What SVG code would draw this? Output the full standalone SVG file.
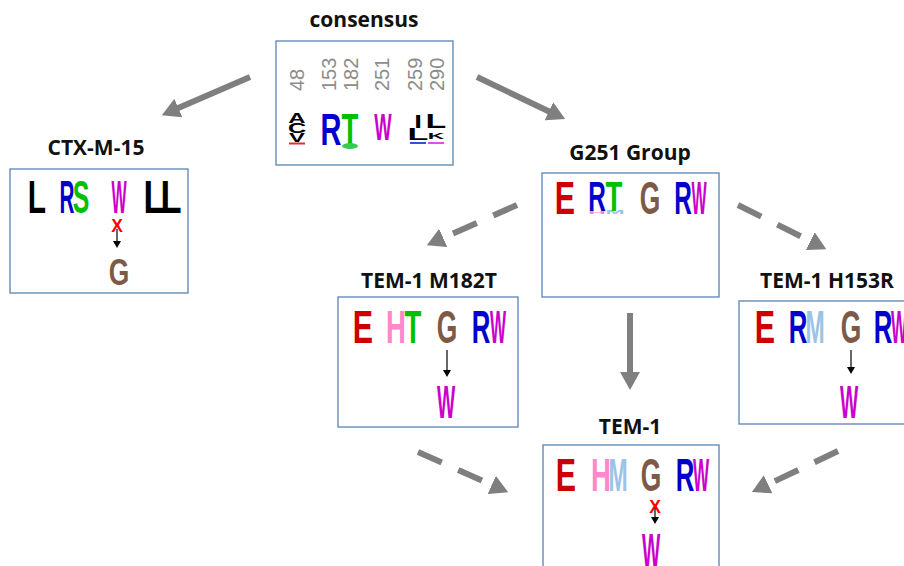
<svg xmlns="http://www.w3.org/2000/svg" width="904" height="566" viewBox="0 0 904 566">
<style>
.title{font-family:"Open Sans","Liberation Sans",sans-serif;font-weight:700;font-size:21px;fill:#111;text-anchor:middle}
.box{fill:#fff;stroke:#5a82b4;stroke-width:1.3}
.num{font-family:"Liberation Sans",Arial,sans-serif;font-size:20px;fill:#8c8c8c}
.lg{font-family:"Liberation Sans",Arial,sans-serif;font-weight:700;font-size:46px;text-anchor:middle}
.red{fill:#cc0000}.blue{fill:#0000cc}.green{fill:#00c000}.brown{fill:#7d5a45}
.mag{fill:#cc00cc}.pink{fill:#ff88cc}.lblue{fill:#9cc3e6}.blk{fill:#000}.xr{fill:#ff0000}
.solid{stroke:#7f7f7f;stroke-width:6;fill:none}
.dash{stroke:#7f7f7f;stroke-width:6;fill:none;stroke-dasharray:26 18}
.thin{stroke:#000;stroke-width:1.2;fill:none}
</style>
<defs>
<marker id="ah" viewBox="0 0 20 20" markerWidth="20" markerHeight="20" refX="2" refY="10" orient="auto" markerUnits="userSpaceOnUse">
<path d="M0,0 L18,10 L0,20 z" fill="#7f7f7f"/>
</marker>
<marker id="sa" viewBox="0 0 8 8" markerWidth="8" markerHeight="8" refX="1" refY="4" orient="auto" markerUnits="userSpaceOnUse">
<path d="M0,0 L7,4 L0,8 z" fill="#000"/>
</marker>
</defs>
<rect width="904" height="566" fill="#fff"/>

<g id="connectors">
<line class="solid" x1="250" y1="77" x2="176.5" y2="108.8" marker-end="url(#ah)"/>
<line class="solid" x1="477" y1="77" x2="550.7" y2="112.2" marker-end="url(#ah)"/>
<line class="solid" x1="630" y1="313" x2="630" y2="374" marker-end="url(#ah)"/>
<line class="dash" x1="517" y1="205" x2="441.4" y2="238.7" marker-end="url(#ah)"/>
<line class="dash" x1="738" y1="205" x2="812" y2="242" marker-end="url(#ah)"/>
<line class="dash" x1="418" y1="452" x2="493.6" y2="485.7" marker-end="url(#ah)"/>
<line class="dash" x1="838" y1="451" x2="766.3" y2="485.2" marker-end="url(#ah)"/>
</g>

<g id="consensus">
<text class="title" x="364" y="27">consensus</text>
<rect class="box" x="276" y="41" width="177" height="124"/>
<text class="num" transform="translate(304,91) rotate(-90)">48</text>
<text class="num" transform="translate(336,91) rotate(-90)">153</text>
<text class="num" transform="translate(358,91) rotate(-90)">182</text>
<text class="num" transform="translate(389,91) rotate(-90)">251</text>
<text class="num" transform="translate(422,91) rotate(-90)">259</text>
<text class="num" transform="translate(444,91) rotate(-90)">290</text>
<text class="lg blk" transform="translate(297,123) scale(0.52,0.3)">A</text>
<text class="lg blk" transform="translate(297,133) scale(0.55,0.3)">C</text>
<text class="lg blk" transform="translate(297,142) scale(0.52,0.28)">V</text>
<rect x="289" y="142.5" width="16" height="2" fill="#e03030"/>
<text class="lg blue" transform="translate(331,145) scale(0.63,0.97)">R</text>
<text class="lg green" transform="translate(350,145) scale(0.6,0.97)">T</text>
<ellipse cx="350" cy="146" rx="8" ry="3" fill="#33cc55"/>
<text class="lg mag" transform="translate(383,140) scale(0.4,0.82)">W</text>
<text class="lg blk" transform="translate(418,128) scale(0.6,0.4)">I</text>
<text class="lg blk" transform="translate(418,140) scale(0.74,0.36)">L</text>
<rect x="410" y="142" width="16" height="2" fill="#3050e0"/>
<text class="lg blk" transform="translate(436,128) scale(0.74,0.45)">L</text>
<text class="lg blk" transform="translate(436,139) scale(0.5,0.2)">K</text>
<rect x="428" y="142" width="16" height="2" fill="#e050e0"/>
</g>

<g id="ctx-m-15">
<text class="title" x="96" y="155">CTX-M-15</text>
<rect class="box" x="10" y="169" width="178" height="124"/>
<text class="lg blk" transform="translate(37,213) scale(0.65,1)">L</text>
<text class="lg blue" transform="translate(67,213) scale(0.45,1)">R</text>
<text class="lg green" transform="translate(81,213) scale(0.54,1)">S</text>
<text class="lg mag" transform="translate(119,213) scale(0.35,1)">W</text>
<text class="lg blk" transform="translate(154,213) scale(0.75,1)">L</text>
<text class="lg blk" transform="translate(171,213) scale(0.75,1)">L</text>
<text class="lg xr" transform="translate(117,232) scale(0.38,0.38)">X</text>
<line class="thin" x1="117" y1="229" x2="117" y2="242" marker-end="url(#sa)"/>
<text class="lg brown" transform="translate(119,285) scale(0.575,0.82)">G</text>
</g>

<g id="g251-group">
<text class="title" x="630" y="160">G251 Group</text>
<rect class="box" x="542" y="173" width="177" height="124"/>
<text class="lg red" transform="translate(565,214) scale(0.66,1)">E</text>
<text class="lg pink" transform="translate(597,214) scale(0.53,0.1)">H</text>
<text class="lg blue" transform="translate(597,211) scale(0.53,0.93)">R</text>
<text class="lg lblue" transform="translate(615,214) scale(0.5,0.1)">M</text>
<text class="lg green" transform="translate(614,211) scale(0.6,0.93)">T</text>
<text class="lg brown" transform="translate(650,214) scale(0.575,1)">G</text>
<text class="lg blue" transform="translate(683,214) scale(0.53,1)">R</text>
<text class="lg mag" transform="translate(699,214) scale(0.35,1)">W</text>
</g>

<g id="tem-1-m182t">
<text class="title" x="429" y="288">TEM-1 M182T</text>
<rect class="box" x="338" y="297" width="180" height="130"/>
<text class="lg red" transform="translate(363,343) scale(0.66,1)">E</text>
<text class="lg pink" transform="translate(396,343) scale(0.6,1)">H</text>
<text class="lg green" transform="translate(413,343) scale(0.6,1)">T</text>
<text class="lg brown" transform="translate(447,343) scale(0.575,1)">G</text>
<text class="lg blue" transform="translate(481,343) scale(0.56,1)">R</text>
<text class="lg mag" transform="translate(498,343) scale(0.37,1)">W</text>
<line class="thin" x1="447" y1="350" x2="447" y2="371" marker-end="url(#sa)"/>
<text class="lg mag" transform="translate(446,418) scale(0.42,1)">W</text>
</g>

<g id="tem-1-h153r">
<text class="title" x="827" y="288">TEM-1 H153R</text>
<rect class="box" x="739" y="301" width="175" height="123"/>
<text class="lg red" transform="translate(765,343) scale(0.66,1)">E</text>
<text class="lg blue" transform="translate(798,343) scale(0.56,1)">R</text>
<text class="lg lblue" transform="translate(815,343) scale(0.5,1)">M</text>
<text class="lg brown" transform="translate(851,343) scale(0.575,1)">G</text>
<text class="lg blue" transform="translate(883,343) scale(0.56,1)">R</text>
<text class="lg mag" transform="translate(899,343) scale(0.37,1)">W</text>
<line class="thin" x1="851" y1="350" x2="851" y2="368" marker-end="url(#sa)"/>
<text class="lg mag" transform="translate(849,418) scale(0.42,1)">W</text>
</g>

<g id="tem-1">
<text class="title" x="630" y="434">TEM-1</text>
<rect class="box" x="543" y="445" width="176" height="130"/>
<text class="lg red" transform="translate(566,491) scale(0.66,1)">E</text>
<text class="lg pink" transform="translate(601,491) scale(0.6,1)">H</text>
<text class="lg lblue" transform="translate(618,491) scale(0.5,1)">M</text>
<text class="lg brown" transform="translate(651,491) scale(0.575,1)">G</text>
<text class="lg blue" transform="translate(685,491) scale(0.56,1)">R</text>
<text class="lg mag" transform="translate(701,491) scale(0.37,1)">W</text>
<text class="lg xr" transform="translate(655,513) scale(0.38,0.38)">X</text>
<line class="thin" x1="655" y1="508" x2="655" y2="518" marker-end="url(#sa)"/>
<text class="lg mag" transform="translate(651,567) scale(0.42,1.05)">W</text>
</g>
</svg>
